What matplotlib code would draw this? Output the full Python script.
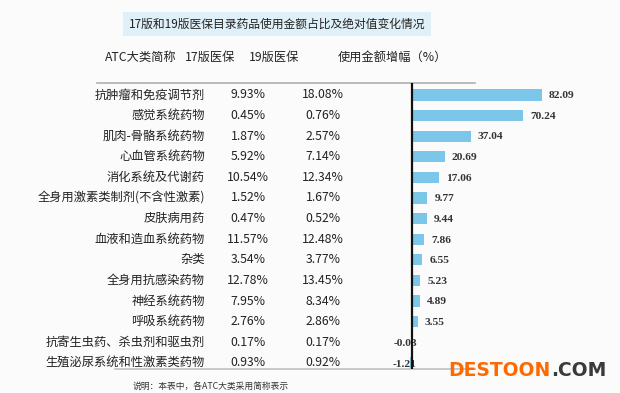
import matplotlib.pyplot as plt
import matplotlib.transforms as mtransforms
import numpy as np

plt.rcParams['font.family'] = ['Noto Sans CJK SC', 'DejaVu Sans']

title = '17版和19版医保目录药品使用金额占比及绝对值变化情况'
headers = ['ATC大类简称', '17版医保', '19版医保', '使用金额增幅（%）']
categories = ['抗肿瘤和免疫调节剂', '感觉系统药物', '肌肉-骨骼系统药物', '心血管系统药物',
              '消化系统及代谢药', '全身用激素类制剂(不含性激素)', '皮肤病用药', '血液和造血系统药物',
              '杂类', '全身用抗感染药物', '神经系统药物', '呼吸系统药物',
              '抗寄生虫药、杀虫剂和驱虫剂', '生殖泌尿系统和性激素类药物']
share_17 = ['9.93%', '0.45%', '1.87%', '5.92%', '10.54%', '1.52%', '0.47%', '11.57%',
            '3.54%', '12.78%', '7.95%', '2.76%', '0.17%', '0.93%']
share_19 = ['18.08%', '0.76%', '2.57%', '7.14%', '12.34%', '1.67%', '0.52%', '12.48%',
            '3.77%', '13.45%', '8.34%', '2.86%', '0.17%', '0.92%']
growth = [82.09, 70.24, 37.04, 20.69, 17.06, 9.77, 9.44, 7.86,
          6.55, 5.23, 4.89, 3.55, -0.03, -1.21]
note = '说明：本表中，各ATC大类采用简称表示'

W, H = 620, 393
fig = plt.figure(figsize=(W / 100, H / 100), dpi=100)
fig.patch.set_facecolor('#fbfbfb')

# axes: x=0 at pixel 412, 1.585 px per percent; rows from y=83 to y=369
px = 1.585
top, bot = 83, 369
ax = fig.add_axes([0, (H - bot) / H, 1, (bot - top) / H])
ax.set_xlim(-412 / px, (W - 412) / px)
n = len(categories)
ax.set_ylim(n - 1 + 0.3, -0.58)
ax.axis('off')

y = np.arange(n)
ax.barh(y, growth, height=0.54, color='#7cc6ea', zorder=2)

for yi, v in zip(y, growth):
    if v >= 0:
        ax.text(v + 4.3, yi + 0.04, f'{v:.2f}', ha='left', va='center', fontsize=8.2,
                family='Liberation Serif', fontweight='bold', color='#333333')
    else:
        ax.text(3, yi + 0.06, f'{v:.2f}', ha='right', va='center', fontsize=8.2,
                family='Liberation Serif', fontweight='bold', color='#333333')

# vertical axis line and horizontal rules
ax.axvline(0, color='#111111', lw=1.6, zorder=3)
blend = mtransforms.blended_transform_factory(fig.transFigure, ax.transAxes)
ax.plot([97 / W, 475 / W], [1, 1], transform=blend, color='#b0b0b0', lw=1.2, clip_on=False)
ax.plot([115 / W, 475 / W], [0, 0], transform=blend, color='#c0c0c0', lw=1.2, clip_on=False)

# table columns
rows = mtransforms.blended_transform_factory(fig.transFigure, ax.transData)
for yi, c, a, b in zip(y, categories, share_17, share_19):
    ax.text(205 / W, yi, c, transform=rows, ha='right', va='center', fontsize=8.8, color='#222222')
    ax.text(248 / W, yi, a, transform=rows, ha='center', va='center', fontsize=8.8, color='#222222')
    ax.text(323 / W, yi, b, transform=rows, ha='center', va='center', fontsize=8.8, color='#222222')

# headers
for xc, h in zip([141, 210, 274, 392], headers):
    fig.text(xc / W, 1 - 57 / H, h, ha='center', va='center', fontsize=8.8, color='#222222')

# title box
fig.text(277 / W, 1 - 24 / H, title, ha='center', va='center', fontsize=8.5, color='#222222',
         bbox=dict(boxstyle='square,pad=0.5', facecolor='#dff0f8', edgecolor='none'))

fig.text(211 / W, 1 - 386 / H, note, ha='center', va='center', fontsize=6.3, color='#333333')

# watermark
fig.text(448 / W, 1 - 371 / H, 'DESTOON', ha='left', va='center', fontsize=13.5,
         fontweight='bold', color='#ff6a00', family='DejaVu Sans')
fig.text(551 / W, 1 - 371 / H, '.COM', ha='left', va='center', fontsize=13.5,
         fontweight='bold', color='#3a3a3a', family='DejaVu Sans')

fig.savefig('out.png', dpi=100, facecolor=fig.get_facecolor())
